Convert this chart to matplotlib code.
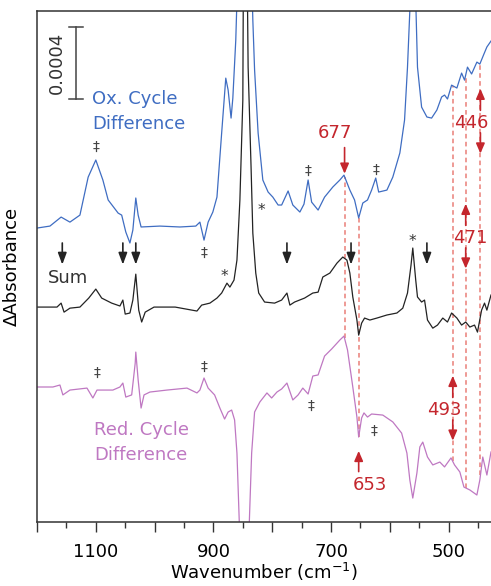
import numpy as np
import matplotlib
matplotlib.use('Agg')
import matplotlib.pyplot as plt

plt.rcParams['font.family'] = ['DejaVu Sans']

# wavenumber (cm-1) and dA (x1e-4) relative to each trace's own baseline
blue_wn = [1200, 1178, 1159, 1144, 1127, 1113, 1100, 1088, 1079, 1062, 1056, 1049, 1042, 1037,
           1032, 1028, 1023, 991, 957, 930, 923, 916, 909, 901, 894, 886, 879, 875, 870, 867,
           862, 855, 847, 838, 833, 830, 824, 816, 807, 799, 790, 784, 773, 765, 753, 746,
           739, 733, 722, 711, 697, 685, 678, 668, 660, 653, 646, 638, 631, 624, 619, 605,
           595, 583, 575, 570, 566, 561, 556, 553, 546, 537, 529, 520, 512, 507, 502, 495,
           486, 478, 473, 468, 461, 452, 447, 440, 435, 428]
blue_da = [0, 0.11, 0.61, 0.33, 0.72, 2.83, 3.78, 2.67, 1.56, 0.83, 0.72, -0.22, -0.83, -0.11,
           1.67, 0.72, 0.06, 0.11, 0.06, 0.11, 0.33, -0.67, 0.33, 0.89, 1.72, 5.28, 8.33, 7.67, 6.11, 7.22,
           10.44, 18.2, 26.6, 18.2, 11.56, 8.78, 5.28, 2.67, 2.0, 1.72, 1.28, 1.28, 2.06, 1.28, 0.89, 1.33,
           2.67, 1.44, 1.0, 1.72, 2.28, 2.67, 2.94, 2.11, 1.56, 0.56, 1.39, 1.56, 2.11, 2.78, 2.0, 2.11,
           2.83, 4.17, 6.0, 8.94, 12.1, 21.0, 12.67, 8.94, 6.72, 6.17, 6.11, 6.56, 7.28, 7.39, 7.17, 7.94,
           7.78, 8.61, 8.22, 8.94, 8.56, 9.22, 9.11, 9.67, 10.06, 10.39]

sum_wn = [1200, 1166, 1159, 1154, 1144, 1127, 1112, 1100, 1090, 1073, 1059, 1054, 1050, 1042,
          1037, 1032, 1027, 1022, 1016, 1001, 965, 928, 920, 906, 894, 886, 877, 872, 865, 860,
          855, 850, 847, 841, 836, 833, 828, 823, 813, 796, 784, 775, 770, 762, 745, 731, 722,
          714, 702, 690, 680, 673, 668, 663, 656, 653, 648, 643, 634, 622, 605, 588, 578, 570,
          564, 561, 556, 553, 546, 541, 536, 527, 519, 510, 502, 495, 486, 478, 471, 464, 456,
          451, 444, 439, 435, 428]
sum_da = [0, 0, 0.22, -0.28, -0.06, 0, 0.5, 1.0, 0.5, 0.22, 0.06, 0.39, -0.39, -0.33,
          0.39, 1.83, -0.17, -0.83, -0.28, 0, 0, -0.22, 0.11, 0.22, 0.5, 0.78, 1.33, 1.11, 1.5, 2.61,
          5.94, 11.5, 33.7, 13.33, 7.78, 4.11, 1.89, 0.78, 0.28, 0.22, 0.39, 0.78, 0.11, 0.28, 0.5, 0.78, 0.83,
          1.67, 1.89, 2.44, 2.78, 2.61, 1.89, 0.56, -0.72, -1.56, -0.89, -0.61, -0.72, -0.61, -0.44, -0.33, -0.06, 0.78,
          2.33, 3.28, 1.5, 0.56, 0.28, 0.39, -0.72, -1.17, -1.0, -0.61, -0.83, -0.33, -0.61, -1.0, -0.83, -1.11, -1.0,
          -1.39, -0.17, 0.22, -0.17, 0.67]

red_wn = [1200, 1173, 1161, 1156, 1144, 1115, 1105, 1098, 1071, 1059, 1054, 1049, 1039, 1033,
          1032, 1028, 1023, 1018, 1008, 979, 945, 928, 923, 916, 909, 898, 889, 881, 875, 869,
          864, 860, 855, 847, 840, 835, 830, 821, 809, 801, 792, 784, 775, 765, 756, 748, 739,
          731, 722, 711, 699, 685, 678, 672, 663, 656, 653, 648, 644, 638, 631, 612, 595, 580,
          571, 566, 561, 554, 549, 544, 536, 527, 515, 507, 496, 490, 481, 474, 464, 452, 447,
          442, 435, 428]
red_da = [0, 0, 0.11, -0.44, -0.17, -0.06, -0.61, -0.17, -0.17, 0, 0.22, -0.56, -0.44, 1.33,
          1.94, 0.39, -1.17, -0.44, -0.28, -0.17, -0.06, -0.33, -0.17, 0.5, -0.06, -0.44, -1.17, -1.78, -1.39, -1.28,
          -1.83, -3.67, -8.5, -20.0, -8.5, -3.67, -1.39, -0.83, -0.33, -0.61, -0.28, -0.11, 0.22, -0.72, -0.44, -0.06, -0.39,
          0.61, 0.67, 1.72, 2.11, 2.61, 2.83, 2.06, 0, -1.67, -2.78, -1.72, -1.44, -1.67, -1.5, -1.56, -1.94, -2.56,
          -3.67, -5.17, -6.17, -4.78, -3.33, -3.06, -3.89, -4.33, -4.17, -4.44, -3.94, -4.33, -4.72, -5.56, -5.72, -6.0, -5.17,
          -3.89, -4.89, -3.61]

offsets = {'ox': 16.33, 'sum': 11.94, 'red': 7.5}

marked_wn = [677, 653, 493, 471, 446]
sum_arrows = [1157, 1054, 1032, 775, 666, 537]

blue_c = '#3f6dc2'
purple_c = '#bf78c2'
black_c = '#232323'
red_c = '#c4262d'
dash_c = '#ea7f78'

fig = plt.figure(figsize=(4.91, 5.86), dpi=100)
ax = fig.add_axes([37 / 491, 64 / 586, 454 / 491, 511 / 586])

bw = np.array(blue_wn, float)
by = np.array(blue_da) + offsets['ox']
sw = np.array(sum_wn, float)
sy = np.array(sum_da) + offsets['sum']
rw = np.array(red_wn, float)
ry = np.array(red_da) + offsets['red']

ax.plot(bw, by, color=blue_c, lw=0.9)
ax.plot(sw, sy, color=black_c, lw=0.9)
ax.plot(rw, ry, color=purple_c, lw=0.9)

ax.set_xlim(1200, 428)
ax.set_ylim(0, 511 / 18)

# dashed guides from the blue trace down to the purple one
for w in marked_wn:
    top = np.interp(w, bw[::-1], by[::-1])
    bot = np.interp(w, rw[::-1], ry[::-1])
    ax.plot([w, w], [bot, top], color=dash_c, lw=1.1, ls=(0, (3, 2.2)), zorder=1)


def arrow(w, y0, y1, color, hl=0.7):
    ax.annotate('', xy=(w, y1), xytext=(w, y0),
                arrowprops=dict(arrowstyle='-|>,head_length=%s,head_width=0.26' % hl,
                                color=color, lw=1.2, shrinkA=0, shrinkB=0))


for w in sum_arrows:
    arrow(w, 15.5, 14.3, black_c)

# red labels
fs = 13
arrow(677, 20.8, 19.35, red_c, 0.6)
ax.text(693, 21.6, '677', color=red_c, fontsize=fs, ha='center', va='center')
arrow(653, 2.8, 3.95, red_c, 0.6)
ax.text(634, 2.06, '653', color=red_c, fontsize=fs, ha='center', va='center')
for w, tx, ty in [(493, 507.5, 6.22), (471, 462.5, 15.78), (446, 461, 22.17)]:
    ax.text(tx, ty, str(w), color=red_c, fontsize=fs, ha='center', va='center')
    arrow(w, ty + 0.7, ty + 1.9, red_c, 0.6)
    arrow(w, ty - 0.55, ty - 1.7, red_c, 0.6)

# trace names
ax.text(1106.5, 23.22, 'Ox. Cycle', color=blue_c, fontsize=fs, va='baseline')
ax.text(1106.5, 21.83, 'Difference', color=blue_c, fontsize=fs, va='baseline')
ax.text(1181, 13.28, 'Sum', color='#333333', fontsize=fs, va='baseline')
ax.text(1103, 4.83, 'Red. Cycle', color=purple_c, fontsize=fs, va='baseline')
ax.text(1103, 3.44, 'Difference', color=purple_c, fontsize=fs, va='baseline')

# band markers
for w, y in [(1100, 20.83), (916, 14.94), (739.5, 19.5), (624, 19.56),
             (1098, 8.28), (916, 8.61), (734, 6.44), (627, 5.06)]:
    ax.text(w, y, '\u2021', color='#444444', fontsize=10, ha='center', va='center')
for w, y in [(881, 13.65), (818, 17.3), (561, 15.6)]:
    ax.text(w, y, '*', color='#333333', fontsize=11, ha='center', va='center')

# scale bar 0.0004
ax.plot([1133.7, 1133.7], [23.5, 27.5], color='#444444', lw=1.1)
ax.plot([1145, 1122], [27.5, 27.5], color='#444444', lw=1.1)
ax.plot([1145, 1122], [23.5, 23.5], color='#444444', lw=1.1)
ax.text(1166, 25.5, '0.0004', color='#333333', fontsize=fs, rotation=90,
        ha='center', va='center')

ax.spines['right'].set_visible(False)
for s in ['left', 'top', 'bottom']:
    ax.spines[s].set_color('#333333')
    ax.spines[s].set_linewidth(1.1)

ax.set_yticks([])
ax.set_xticks(np.arange(1200, 420, -100))
ax.set_xticklabels(['' if t % 200 == 0 else str(t) for t in np.arange(1200, 420, -100)])
ax.set_xticks(np.arange(1150, 420, -100), minor=True)
ax.tick_params(axis='x', which='major', direction='out', length=7, width=1.0,
               color='#333333', labelsize=fs, pad=8)
ax.tick_params(axis='x', which='minor', direction='out', length=4, width=1.0, color='#333333')

ax.set_xlabel('Wavenumber (cm$^{\u22121}$)', fontsize=fs, labelpad=0)
ax.set_ylabel('\u0394Absorbance', fontsize=fs)
ax.yaxis.set_label_coords(-0.035, 0.5)

fig.savefig('out.png', dpi=100)
